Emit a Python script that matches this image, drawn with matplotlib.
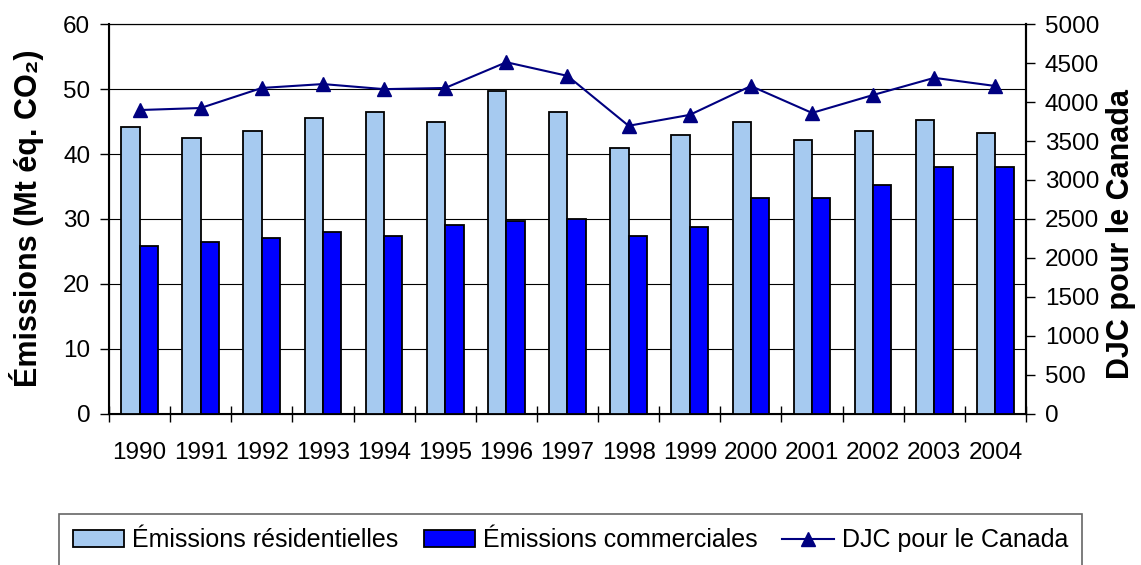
import matplotlib.pyplot as plt
import numpy as np
from matplotlib.patches import Patch
from matplotlib.lines import Line2D

plt.rcParams['font.family'] = ['Liberation Sans', 'DejaVu Sans']

# données
annees = ['1990', '1991', '1992', '1993', '1994', '1995', '1996', '1997',
          '1998', '1999', '2000', '2001', '2002', '2003', '2004']
residentielles = [44.2, 42.4, 43.5, 45.6, 46.5, 45.0, 49.7, 46.5,
                  40.9, 43.0, 45.0, 42.1, 43.5, 45.3, 43.3]
commerciales = [25.8, 26.5, 27.1, 28.0, 27.4, 29.1, 29.7, 30.0,
                27.4, 28.8, 33.2, 33.2, 35.3, 38.0, 38.0]
djc = [3897, 3923, 4180, 4230, 4165, 4180, 4510, 4335,
       3695, 3835, 4205, 3860, 4090, 4310, 4205]

x = np.arange(len(annees))
w = 0.30

fig = plt.figure(figsize=(11.41, 5.65), dpi=100)
ax = fig.add_axes([0.0955, 0.2673, 0.8037, 0.6902])

ax.bar(x - w / 2, residentielles, w, color='#A6CAF0', edgecolor='black', linewidth=1.3, zorder=3)
ax.bar(x + w / 2, commerciales, w, color='#0000FF', edgecolor='black', linewidth=1.3, zorder=3)

ax.set_ylim(0, 60)
ax.set_yticks(range(0, 61, 10))
ax.set_xlim(-0.5, len(annees) - 0.5)
ax.set_xticks(x)
ax.set_xticklabels(annees)
ax.set_xticks(np.arange(-0.5, len(annees), 1), minor=True)
ax.tick_params(axis='x', which='major', length=0, pad=20, labelsize=17.5)
ax.tick_params(axis='x', which='minor', direction='inout', length=12, width=1)
ax.tick_params(axis='y', length=6.5, width=1, pad=7, labelsize=17.5)
ax.grid(axis='y', color='black', linewidth=0.8, zorder=0)
for s in ax.spines.values():
    s.set_linewidth(1.5)
ax.spines['top'].set_linewidth(0.8)

ax2 = ax.twinx()
ax2.plot(x, djc, color='#000080', linewidth=1.5, marker='^', markersize=10, zorder=4)
ax2.set_ylim(0, 5000)
ax2.set_yticks(range(0, 5001, 500))
ax2.tick_params(axis='y', length=6.5, width=1, pad=7, labelsize=17.5)
ax2.spines['right'].set_linewidth(1.5)

# titres des axes
fig.text(0.023, 0.614, 'Émissions (Mt éq. CO₂)', rotation=90, ha='center', va='center',
         fontsize=22, fontweight='bold')
fig.text(0.9825, 0.586, 'DJC pour le Canada', rotation=90, ha='center', va='center',
         fontsize=22, fontweight='bold')

handles = [
    Patch(facecolor='#A6CAF0', edgecolor='black', linewidth=1.3),
    Patch(facecolor='#0000FF', edgecolor='black', linewidth=1.3),
    Line2D([0], [0], color='#000080', linewidth=1.5, marker='^', markersize=10),
]
labels = ['Émissions résidentielles', 'Émissions commerciales', 'DJC pour le Canada']
leg = fig.legend(handles, labels, loc='center', bbox_to_anchor=(0.5, 0.044), ncol=3,
                 fontsize=18, frameon=True, fancybox=False, edgecolor='#404040',
                 handlelength=2.05, handleheight=0.65, columnspacing=1.0, handletextpad=0.32,
                 borderpad=0.55)
leg.get_frame().set_linewidth(1.2)

fig.savefig('out.png', dpi=100)
